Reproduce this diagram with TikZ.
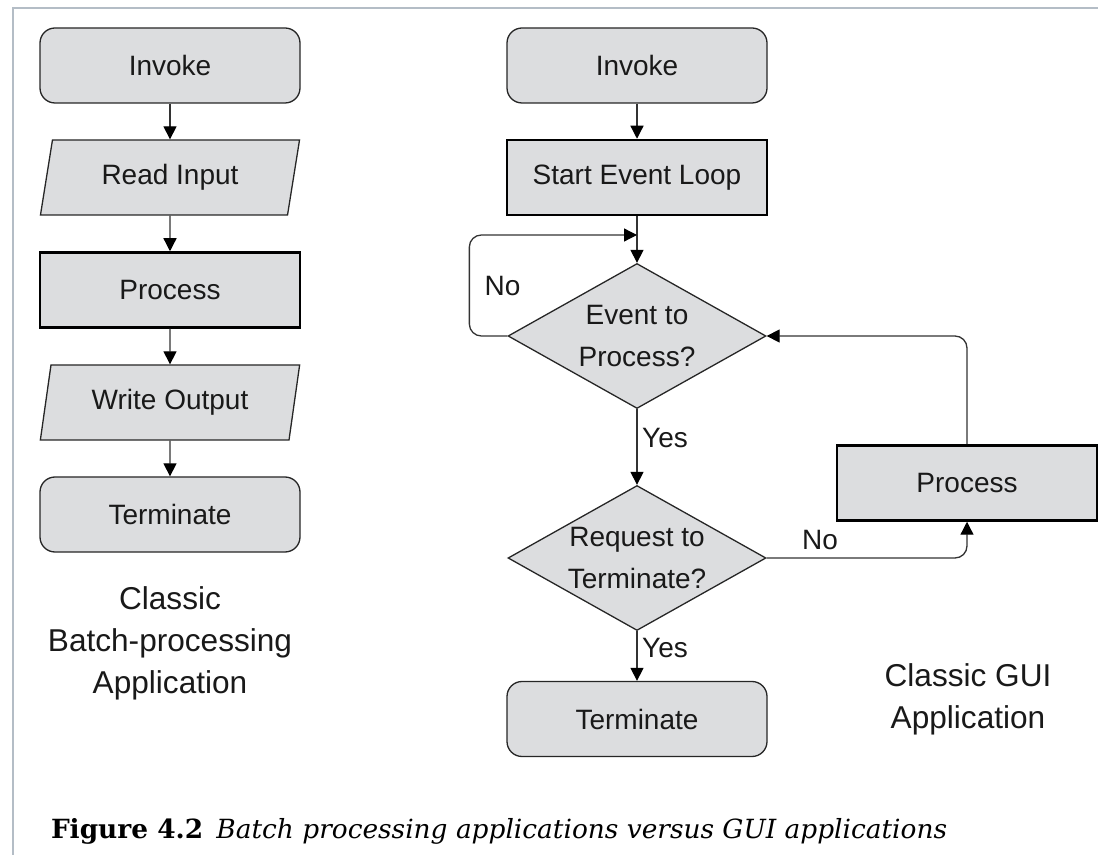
\documentclass[tikz,border=0pt]{standalone}
\usepackage{fontspec}
\setsansfont{Liberation Sans}
\newfontfamily\capfont{DejaVu Serif}
\usetikzlibrary{shapes.geometric,arrows.meta}

\newlength{\du}
\setlength{\du}{10pt}

\definecolor{boxgray}{rgb}{0.862745, 0.866667, 0.874510}
\definecolor{framecolor}{rgb}{0.705882, 0.741176, 0.776471}

\tikzset{
  boxtext/.style={font=\sffamily\fontsize{14}{21}\selectfont, text=black!90},
  startstop/.style={boxtext, draw=black!85, fill=boxgray, line width=0.65pt, rectangle, rounded corners=7.5pt, minimum width=13\du, minimum height=3.75\du, inner sep=0pt},
  procbox/.style={boxtext, draw=black, fill=boxgray, line width=1.25pt, rectangle, minimum width=13\du, minimum height=3.75\du, inner sep=0pt},
  iobox/.style={boxtext, draw=black!85, fill=boxgray, line width=0.65pt, trapezium, trapezium left angle=75, trapezium right angle=105, trapezium stretches=true, minimum width=13\du, minimum height=3.75\du, inner sep=0pt},
  decision/.style={boxtext, draw=black!85, fill=boxgray, line width=0.65pt, diamond, shape aspect=1.78, minimum width=12.9\du, minimum height=7.25\du, inner sep=-2pt, align=center},
  flow/.style={draw=black!80, line width=0.65pt, -{Triangle[length=6.5pt,width=6.5pt,color=black]}},
  flowlabel/.style={boxtext},
  note/.style={font=\sffamily\fontsize{15.8}{21}\selectfont, align=center, text=black!90},
}

\begin{document}
\begin{tikzpicture}
\pgftransformxscale{1.000000}
\pgftransformyscale{-1.000000}
\useasboundingbox (0\du,0\du) rectangle (54.900000\du,42.750000\du);
% frame round the figure
\pgfsetlinewidth{1.000000pt}
{
\pgfsetstrokecolor{framecolor}
\draw (0.625000\du,42.750000\du)--(0.625000\du,0.400000\du)--(54.900000\du,0.400000\du);
}
% batch processing column
\node[startstop] (invokeA) at (8.500000\du,3.275000\du) {Invoke};
\node[iobox] (readIn) at (8.500000\du,8.875000\du) {Read Input};
\node[procbox] (procA) at (8.500000\du,14.500000\du) {Process};
\node[iobox] (writeOut) at (8.500000\du,20.125000\du) {Write Output};
\node[startstop] (termA) at (8.500000\du,25.725000\du) {Terminate};
\draw[flow] (invokeA) -- (readIn);
\draw[flow] (readIn) -- (procA);
\draw[flow] (procA) -- (writeOut);
\draw[flow] (writeOut) -- (termA);
\node[note] (batchNote) at (8.500000\du,32.150000\du) {Classic\\Batch-processing\\Application};
% GUI column
\node[startstop] (invokeB) at (31.850000\du,3.275000\du) {Invoke};
\node[procbox] (startLoop) at (31.850000\du,8.875000\du) {Start Event Loop};
\node[decision] (evDec) at (31.850000\du,16.800000\du) {Event to\\Process?};
\node[decision] (termDec) at (31.850000\du,27.900000\du) {Request to\\Terminate?};
\node[startstop] (termB) at (31.850000\du,35.950000\du) {Terminate};
\node[procbox] (procB) at (48.350000\du,24.150000\du) {Process};
\coordinate (loopIn) at (31.850000\du,11.750000\du);
\draw[flow] (invokeB) -- (startLoop);
\draw[flow] (startLoop) -- (evDec.north);
\draw[flow, rounded corners=6pt] (evDec.west) -- ++(-1.900000\du,0) |- (loopIn);
\draw[flow] (evDec.south) -- (termDec.north);
\draw[flow, rounded corners=6pt] (termDec.east) -| (procB.south);
\draw[flow, rounded corners=6pt] (procB.north) |- (evDec.east);
\draw[flow] (termDec.south) -- (termB.north);
\node[flowlabel, anchor=west] (noLoop) at (23.850000\du,14.300000\du) {No};
\node[flowlabel] (yesEv) at (33.250000\du,21.900000\du) {Yes};
\node[flowlabel] (noTerm) at (41.000000\du,27.000000\du) {No};
\node[flowlabel] (yesTerm) at (33.250000\du,32.400000\du) {Yes};
\node[note] (guiNote) at (48.400000\du,34.950000\du) {Classic GUI\\Application};
% caption
\node[anchor=base west, inner sep=0pt] (caption) at (2.500000\du,41.900000\du) {\capfont\fontsize{13.2}{16}\selectfont\textbf{Figure 4.2}\hspace{0.5em}\textit{Batch processing applications versus GUI applications}};
\end{tikzpicture}
\end{document}
